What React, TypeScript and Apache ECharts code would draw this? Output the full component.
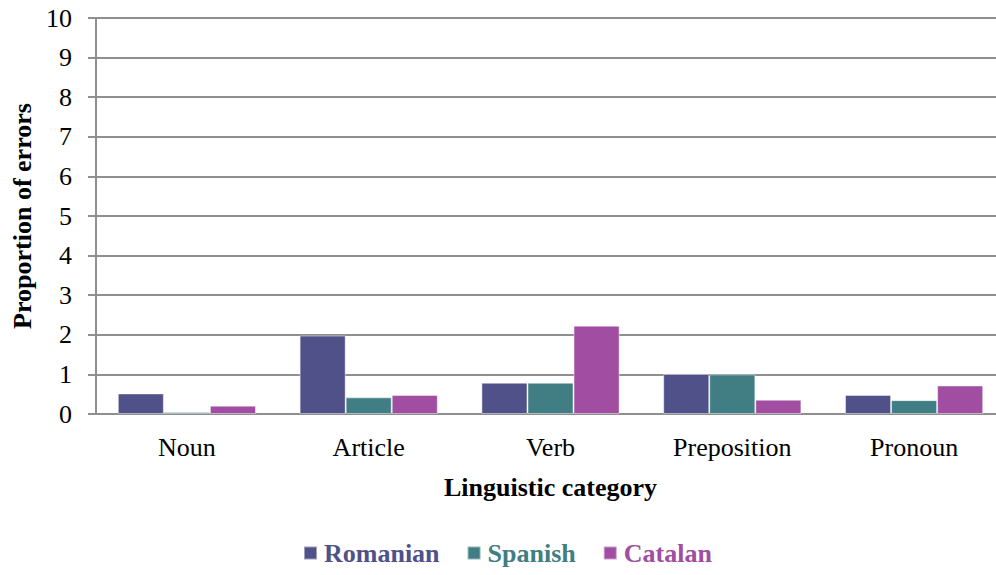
import React, { useEffect, useRef } from "react";
import * as echarts from "echarts";

const categories = ["Noun", "Article", "Verb", "Preposition", "Pronoun"];
const romanian = [0.52, 1.98, 0.79, 1.01, 0.48];
const spanish = [0.05, 0.42, 0.79, 1.0, 0.35];
const catalan = [0.21, 0.48, 2.23, 0.36, 0.72];
const seriesNames = ["Romanian", "Spanish", "Catalan"];
const colors = ["#505189", "#407E83", "#A04DA2"];

const FONT = "'Liberation Serif', 'Times New Roman', serif";

export default function App() {
  const ref = useRef<HTMLDivElement>(null);
  useEffect(() => {
    if (!ref.current) return;
    const chart = echarts.init(ref.current, undefined, { renderer: "svg" });
    const values = [romanian, spanish, catalan];
    chart.setOption({
      animation: false,
      backgroundColor: "#fff",
      textStyle: { fontFamily: FONT },
      grid: { left: 96, top: 18, width: 909, height: 396, outerBoundsMode: "none", containLabel: false },
      legend: {
        bottom: 4,
        left: 298,
        itemWidth: 13,
        itemHeight: 13,
        itemGap: 27,
        icon: "rect",
        data: seriesNames.map((n, i) => ({
          name: n,
          textStyle: {
            color: colors[i],
            fontWeight: "bold",
            fontSize: 26,
            fontFamily: FONT,
            padding: [0, 0, 0, 2],
          },
        })),
      },
      xAxis: {
        type: "category",
        data: categories,
        name: "Linguistic category",
        nameLocation: "middle",
        nameGap: 60,
        nameTextStyle: { fontWeight: "bold", fontSize: 26, color: "#000", fontFamily: FONT },
        axisLine: { lineStyle: { color: "#8F8F8F", width: 2 } },
        axisTick: { show: false },
        axisLabel: { fontSize: 26, color: "#000", margin: 20, fontFamily: FONT },
      },
      yAxis: {
        type: "value",
        min: 0,
        max: 10,
        interval: 1,
        name: "Proportion of errors",
        nameLocation: "middle",
        nameGap: 61,
        nameTextStyle: { fontWeight: "bold", fontSize: 26, color: "#000", fontFamily: FONT },
        axisLine: { show: true, lineStyle: { color: "#8F8F8F", width: 2 } },
        axisTick: { show: true, length: 8, lineStyle: { color: "#8F8F8F", width: 2 } },
        axisLabel: { fontSize: 26, color: "#000", margin: 24, fontFamily: FONT },
        splitLine: { lineStyle: { color: "#8F8F8F", width: 2 } },
      },
      series: seriesNames.map((n, i) => ({
        name: n,
        type: "bar",
        data: values[i],
        barGap: "0%",
        barCategoryGap: "24%",
        itemStyle: {
          color: colors[i],
          borderColor: "rgba(255,255,255,0.45)",
          borderWidth: 1,
        },
      })),
    });
    return () => chart.dispose();
  }, []);
  return (
    <div
      ref={ref}
      style={{ position: "fixed", left: 0, top: 0, width: 996, height: 575 }}
    />
  );
}
